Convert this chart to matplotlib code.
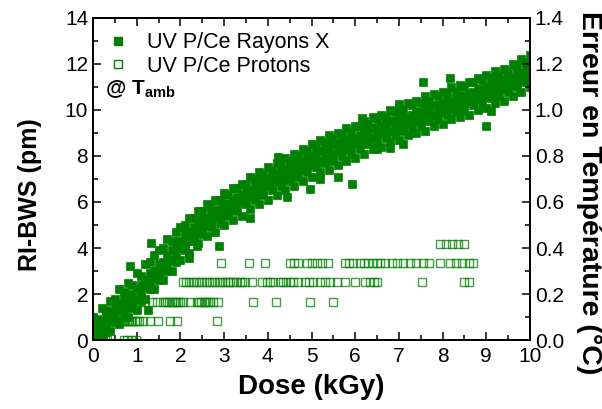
import matplotlib
matplotlib.use("Agg")
import matplotlib.pyplot as plt
from matplotlib.lines import Line2D
from matplotlib.ticker import MultipleLocator, FormatStrFormatter

plt.rcParams['font.family'] = ['Liberation Sans', 'DejaVu Sans']
plt.rcParams['mathtext.fontset'] = 'custom'
plt.rcParams['mathtext.rm'] = 'Liberation Sans'
plt.rcParams['mathtext.bf'] = 'Liberation Sans:bold'

GREEN = '#008000'

# --- X-ray irradiation (filled squares) ---
xray_dose = [
    0.0, 0.1, 0.2, 0.3, 0.4, 0.5, 0.6, 0.7, 0.8, 0.9,
    1.0, 1.1, 1.2, 1.3, 1.4, 1.5, 1.6, 1.7, 1.8, 1.9,
    2.0, 2.1, 2.2, 2.3, 2.4, 2.5, 2.6, 2.7, 2.8, 2.9,
    3.0, 3.1, 3.2, 3.3, 3.4, 3.5, 3.6, 3.7, 3.8, 3.9,
    4.0, 4.1, 4.2, 4.3, 4.4, 4.5, 4.6, 4.7, 4.8, 4.9,
    5.0, 5.1, 5.2, 5.3, 5.4, 5.5, 5.6, 5.7, 5.8, 5.9,
    6.0, 6.1, 6.2, 6.3, 6.4, 6.5, 6.6, 6.7, 6.8, 6.9,
    7.0, 7.1, 7.2, 7.3, 7.4, 7.5, 7.6, 7.7, 7.8, 7.9,
    8.0, 8.1, 8.2, 8.3, 8.4, 8.5, 8.6, 8.7, 8.8, 8.9,
    9.0, 9.1, 9.2, 9.3, 9.4, 9.5, 9.6, 9.7, 9.8, 9.9, 10.0,
]
xray_upper = [
    1.0, 0.9, 1.4, 1.3, 1.7, 1.8, 2.2, 2.1, 2.5, 2.4,
    2.9, 2.8, 3.3, 3.4, 3.7, 3.9, 4.0, 4.4, 4.3, 4.7,
    4.9, 5.0, 5.3, 5.3, 5.6, 5.6, 5.9, 5.8, 6.1, 6.1,
    6.4, 6.3, 6.6, 6.6, 6.8, 6.8, 7.1, 7.0, 7.3, 7.2,
    7.5, 7.4, 7.7, 7.6, 7.9, 7.8, 8.1, 8.0, 8.3, 8.2,
    8.5, 8.4, 8.7, 8.6, 8.9, 8.8, 9.0, 8.9, 9.2, 9.1,
    9.3, 9.3, 9.5, 9.4, 9.7, 9.6, 9.8, 9.7, 10.0, 9.9,
    10.1, 10.0, 10.3, 10.2, 10.4, 10.3, 10.6, 10.4, 10.7, 10.6,
    10.8, 10.7, 11.0, 10.8, 11.1, 11.0, 11.2, 11.2, 11.4, 11.3,
    11.5, 11.4, 11.7, 11.5, 11.8, 11.7, 12.0, 11.9, 12.2, 12.1, 12.4,
]
xray_mid_hi = [
    0.5, 0.7, 0.8, 1.1, 1.2, 1.5, 1.6, 1.8, 1.9, 2.0,
    2.2, 2.4, 2.6, 2.9, 3.0, 3.3, 3.4, 3.7, 3.9, 4.1,
    4.3, 4.6, 4.7, 4.9, 5.0, 5.3, 5.3, 5.5, 5.6, 5.7,
    5.9, 5.9, 6.1, 6.2, 6.3, 6.5, 6.5, 6.7, 6.8, 6.9,
    7.0, 7.1, 7.2, 7.3, 7.4, 7.5, 7.6, 7.7, 7.8, 7.9,
    8.0, 8.1, 8.2, 8.3, 8.3, 8.5, 8.5, 8.6, 8.7, 8.8,
    8.8, 8.9, 9.0, 9.1, 9.2, 9.2, 9.3, 9.4, 9.5, 9.5,
    9.6, 9.7, 9.7, 9.8, 9.9, 9.9, 10.0, 10.1, 10.2, 10.2,
    10.3, 10.4, 10.4, 10.5, 10.6, 10.6, 10.7, 10.8, 10.9, 10.9,
    11.0, 11.1, 11.1, 11.2, 11.3, 11.4, 11.4, 11.6, 11.6, 11.8, 11.9,
]
xray_mid_lo = [
    0.2, 0.3, 0.5, 0.7, 0.9, 1.1, 1.3, 1.4, 1.5, 1.7,
    1.8, 2.0, 2.3, 2.5, 2.7, 2.9, 3.1, 3.3, 3.5, 3.8,
    4.0, 4.2, 4.3, 4.5, 4.7, 4.9, 5.0, 5.1, 5.3, 5.4,
    5.5, 5.6, 5.7, 5.9, 6.0, 6.1, 6.2, 6.3, 6.4, 6.5,
    6.7, 6.7, 6.9, 6.9, 7.0, 7.2, 7.2, 7.4, 7.4, 7.6,
    7.6, 7.7, 7.8, 7.9, 8.0, 8.1, 8.2, 8.3, 8.3, 8.4,
    8.5, 8.6, 8.7, 8.7, 8.8, 8.9, 9.0, 9.0, 9.1, 9.2,
    9.2, 9.3, 9.4, 9.5, 9.5, 9.6, 9.7, 9.7, 9.8, 9.9,
    9.9, 10.0, 10.1, 10.2, 10.2, 10.3, 10.4, 10.4, 10.5, 10.6,
    10.6, 10.7, 10.8, 10.9, 10.9, 11.0, 11.1, 11.2, 11.3, 11.4, 11.5,
]
xray_lower = [
    0.0, 0.2, 0.1, 0.4, 0.4, 0.8, 0.7, 1.1, 1.0, 1.4,
    1.3, 1.7, 1.8, 2.2, 2.2, 2.6, 2.6, 3.0, 3.0, 3.4,
    3.5, 3.9, 3.8, 4.3, 4.2, 4.6, 4.5, 4.9, 4.7, 5.1,
    5.0, 5.4, 5.2, 5.6, 5.4, 5.9, 5.7, 6.1, 5.9, 6.3,
    6.1, 6.5, 6.3, 6.7, 6.5, 6.9, 6.7, 7.1, 6.9, 7.3,
    7.1, 7.5, 7.3, 7.7, 7.4, 7.8, 7.6, 8.0, 7.8, 8.1,
    7.9, 8.3, 8.1, 8.5, 8.3, 8.6, 8.4, 8.8, 8.6, 8.9,
    8.7, 9.1, 8.9, 9.2, 9.0, 9.3, 9.1, 9.5, 9.3, 9.6,
    9.4, 9.8, 9.6, 9.9, 9.7, 10.0, 9.8, 10.2, 10.0, 10.3,
    10.1, 10.5, 10.3, 10.6, 10.4, 10.8, 10.6, 11.0, 10.8, 11.2, 11.0,
]
# scattered points away from the main band
xray_out_dose = [0.85, 1.26, 1.33, 2.2, 2.38, 2.88, 3.6, 4.24, 4.44, 4.97,
                 5.2, 5.6, 5.93, 6.15, 6.5, 6.8, 7.0, 7.1, 7.55, 8.17, 9.0, 9.1]
xray_out_rib = [3.2, 1.3, 4.2, 3.57, 4.1, 4.1, 5.3, 7.95, 6.2, 6.55,
                7.0, 7.1, 6.8, 9.65, 8.3, 8.35, 10.26, 8.5, 11.2, 11.4, 9.3, 9.95]

# --- Proton irradiation (open squares): quantised levels of RI-BWS (pm) ---
proton_levels = [0.0, 0.84, 1.67, 2.51, 3.35, 4.18]
proton_dose_lv0 = [0.03, 0.08, 0.12, 0.16, 0.2, 0.24, 0.28, 0.33, 0.7, 0.78, 0.86, 0.98]
proton_dose_lv1 = [0.23, 0.46, 0.5, 0.54, 0.58, 0.62, 0.66, 0.7, 0.74, 0.78, 0.82, 0.86,
                   0.9, 0.95, 1.0, 1.05, 1.15, 1.3, 1.48, 1.76, 1.92, 2.84]
proton_dose_lv2 = [0.89, 1.03, 1.19, 1.35, 1.46, 1.6, 1.65, 1.7, 1.75, 1.8, 1.85, 1.9,
                   1.95, 2.0, 2.06, 2.22, 2.38, 2.43, 2.48, 2.53, 2.58, 2.63, 2.68,
                   2.75, 2.86, 3.66, 4.19, 4.97, 5.49]
proton_dose_lv3 = [1.37, 2.06, 2.12, 2.2, 2.28, 2.35, 2.42, 2.5, 2.58, 2.66, 2.73,
                   2.8, 2.88, 2.95, 3.02, 3.1, 3.13, 3.2, 3.27, 3.36, 3.42, 3.48, 3.64,
                   3.87, 3.98, 4.05, 4.12, 4.28, 4.35, 4.42, 4.5, 4.58, 4.69, 4.85,
                   4.94, 5.03, 5.19, 5.3, 5.42, 5.58, 5.77, 6.0, 6.22, 6.34, 6.42,
                   6.5, 7.53, 8.5, 8.6]
proton_dose_lv4 = [1.37, 2.93, 3.57, 3.94, 4.5, 4.6, 4.68, 4.9, 5.0, 5.12, 5.25, 5.38,
                   5.77, 5.85, 5.95, 6.1, 6.2, 6.3, 6.4, 6.5, 6.57, 6.68, 6.85, 6.96,
                   7.1, 7.25, 7.4, 7.55, 7.7, 7.94, 8.17, 8.3, 8.45, 8.6, 8.7]
proton_dose_lv5 = [7.94, 8.08, 8.22, 8.36, 8.5]
proton_doses = [proton_dose_lv0, proton_dose_lv1, proton_dose_lv2,
                proton_dose_lv3, proton_dose_lv4, proton_dose_lv5]

fig = plt.figure(figsize=(6.02, 4.09), dpi=100)
ax = fig.add_axes([0.1545, 0.1687, 0.7259, 0.7873])

fill_kw = dict(ls='none', marker='s', ms=5.8, color=GREEN, mec=GREEN, mew=0.5)
for ys in (xray_lower, xray_mid_lo, xray_mid_hi, xray_upper):
    ax.plot(xray_dose, ys, **fill_kw)
ax.plot(xray_out_dose, xray_out_rib, **fill_kw)

for lvl, xs in zip(proton_levels, proton_doses):
    ax.plot(xs, [lvl] * len(xs), ls='none', marker='s', ms=5.6, mfc='none',
            mec=GREEN, mew=1.0, alpha=0.75)

ax.set_xlim(0, 10)
ax.set_ylim(0, 14)
ax.xaxis.set_major_locator(MultipleLocator(1))
ax.xaxis.set_minor_locator(MultipleLocator(0.5))
ax.yaxis.set_major_locator(MultipleLocator(2))
ax.yaxis.set_minor_locator(MultipleLocator(1))
ax.tick_params(which='both', direction='in', top=True, labelsize=15, width=1.1)
ax.tick_params(which='major', length=6)
ax.tick_params(which='minor', length=3.5)
ax.tick_params(axis='x', pad=5)
for sp in ax.spines.values():
    sp.set_linewidth(1.3)

ax.set_xlabel('Dose (kGy)', fontsize=20, fontweight='bold', labelpad=6)
ax.set_ylabel('RI-BWS (pm)', fontsize=18, fontweight='bold')
ax.yaxis.set_label_coords(-0.117, 0.45)

ax2 = ax.twinx()
ax2.set_ylim(0, 1.4)
ax2.yaxis.set_major_locator(MultipleLocator(0.2))
ax2.yaxis.set_minor_locator(MultipleLocator(0.1))
ax2.yaxis.set_major_formatter(FormatStrFormatter('%.1f'))
ax2.tick_params(which='both', direction='in', labelsize=15, width=1.1)
ax2.tick_params(which='major', length=6)
ax2.tick_params(which='minor', length=3.5)
for sp in ax2.spines.values():
    sp.set_linewidth(1.3)
ax2.set_ylabel('Erreur en Température (°C)', fontsize=20.5, fontweight='bold',
               rotation=270, va='bottom')
ax2.yaxis.set_label_coords(1.105, 0.457)

handles = [
    Line2D([0], [0], ls='none', marker='s', ms=6, color=GREEN),
    Line2D([0], [0], ls='none', marker='s', ms=6, mfc='none', mec=GREEN, mew=1.0),
]
ax.legend(handles, ['UV P/Ce Rayons X', 'UV P/Ce Protons'], loc='upper left',
          bbox_to_anchor=(-0.016, 1.022), frameon=False, fontsize=15.5,
          handlelength=1.0, handletextpad=0.85, labelspacing=0.1, borderaxespad=0.6)
ax.text(0.027, 0.78, r'@ $\mathbf{T}_{\mathbf{amb}}$', transform=ax.transAxes,
        fontsize=15, fontweight='bold', va='center', ha='left')

fig.savefig('out.png', dpi=100)
